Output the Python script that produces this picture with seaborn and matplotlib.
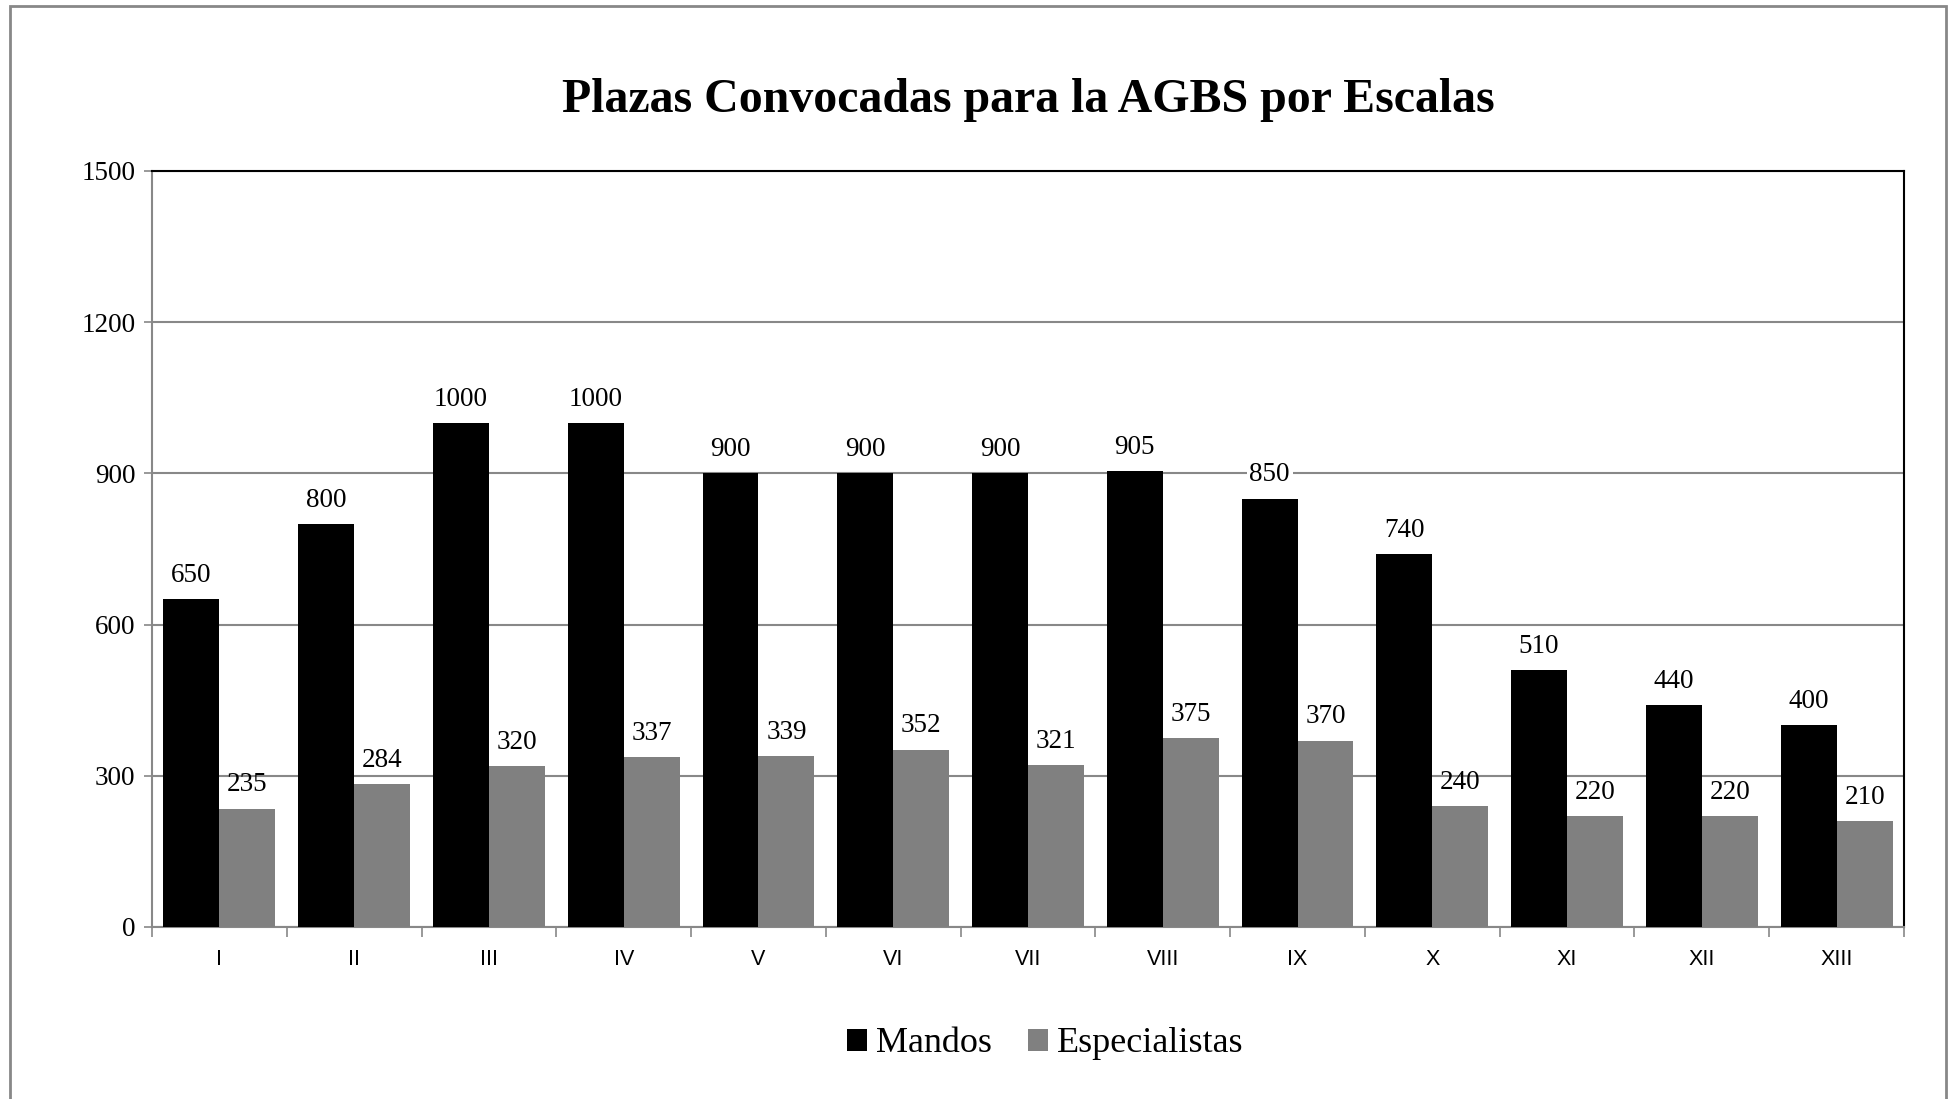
import matplotlib
matplotlib.use("Agg")
import matplotlib.pyplot as plt
from matplotlib.patches import Rectangle, Patch
from matplotlib.ticker import FixedLocator
import seaborn as sns
import pandas as pd

escalas = ["I", "II", "III", "IV", "V", "VI", "VII", "VIII", "IX", "X", "XI", "XII", "XIII"]
mandos = [650, 800, 1000, 1000, 900, 900, 900, 905, 850, 740, 510, 440, 400]
especialistas = [235, 284, 320, 337, 339, 352, 321, 375, 370, 240, 220, 220, 210]
series = ["Mandos", "Especialistas"]
colores = ["#000000", "#808080"]

df = pd.DataFrame({
    "Escala": escalas * 2,
    "Plazas": mandos + especialistas,
    "Serie": [series[0]] * len(escalas) + [series[1]] * len(escalas),
})

sns.set_theme(style="white", rc={"text.color": "black", "xtick.color": "black",
                                 "ytick.color": "black"})
serif = ["Liberation Serif", "DejaVu Serif"]
sans = ["Liberation Sans", "DejaVu Sans"]

W, H = 1954, 1099
fig = plt.figure(figsize=(W / 100, H / 100), dpi=100)
ax = fig.add_axes([152 / W, (H - 927) / H, (1904 - 152) / W, (927 - 171) / H])

sns.barplot(data=df, x="Escala", y="Plazas", hue="Serie", order=escalas,
            hue_order=series, palette=colores, saturation=1, width=0.83,
            ax=ax, legend=False, zorder=3, edgecolor="none")

ax.set_xlim(-0.5, len(escalas) - 0.5)
ax.set_ylim(0, 1500)
ax.set_yticks([0, 300, 600, 900, 1200, 1500])
ax.yaxis.grid(True, color="#888888", linewidth=1.5, zorder=0)
ax.set_axisbelow(True)
ax.set_xlabel("")
ax.set_ylabel("")

for lab in ax.get_yticklabels():
    lab.set_family(serif)
    lab.set_fontsize(19.5)
    lab.set_color("black")
for lab in ax.get_xticklabels():
    lab.set_family(sans)
    lab.set_fontsize(15.5)
    lab.set_color("black")

ax.tick_params(axis="y", which="major", direction="out", length=6, width=1.2,
               color="#888888", pad=6, left=True)
ax.tick_params(axis="x", which="major", length=0, pad=16)
ax.xaxis.set_minor_locator(FixedLocator([i - 0.5 for i in range(len(escalas) + 1)]))
ax.tick_params(axis="x", which="minor", direction="out", length=7, width=1.2,
               color="#888888", bottom=True)

for side in ["left", "bottom"]:
    ax.spines[side].set_color("#888888")
    ax.spines[side].set_linewidth(1.5)
for side in ["top", "right"]:
    ax.spines[side].set_color("#000000")
    ax.spines[side].set_linewidth(1.5)

# value labels
for i, cont in enumerate(ax.containers):
    for bar in cont:
        h = bar.get_height()
        kw = {}
        if i == 0:
            kw["bbox"] = dict(facecolor="white", edgecolor="none", pad=2)
        ax.annotate(f"{h:.0f}", (bar.get_x() + bar.get_width() / 2, h),
                    xytext=(0, 17), textcoords="offset points",
                    ha="center", va="center", fontsize=19.5, color="black",
                    family=serif, zorder=5, **kw)

fig.text(1028 / W, 1 - 100 / H, "Plazas Convocadas para la AGBS por Escalas",
         ha="center", va="center", fontsize=34.5, fontweight="bold",
         family=serif, color="black")

handles = [Patch(facecolor=c, edgecolor="none") for c in colores]
fig.legend(handles, series, loc="center", bbox_to_anchor=(1045 / W, 1 - 1044 / H),
           ncol=2, frameon=False, prop={"family": serif, "size": 26},
           handlelength=0.55, handleheight=0.55, handletextpad=0.25,
           columnspacing=1.0)

fig.patches.append(Rectangle((10 / W, -0.01), (1946 - 10) / W, 1 - 6 / H + 0.01,
                             transform=fig.transFigure, fill=False,
                             edgecolor="#888888", linewidth=2))

fig.savefig("out.png", dpi=100)
